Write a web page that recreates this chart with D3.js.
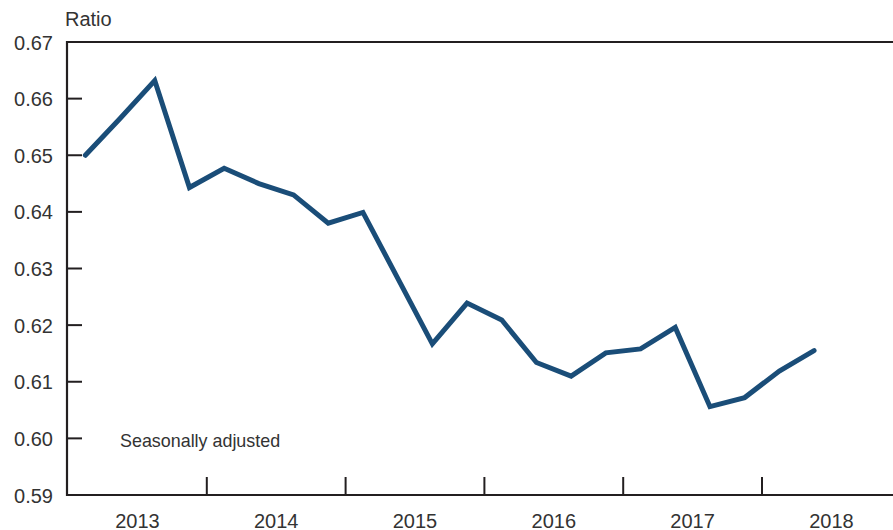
<!DOCTYPE html>
<html>
<head>
<meta charset="utf-8">
<script src="https://cdn.jsdelivr.net/npm/d3@7"></script>
<style>
  html, body { margin: 0; padding: 0; background: #fff; }
  svg { display: block; }
  text { font-family: "Liberation Sans", Arial, sans-serif; fill: #333; }
</style>
</head>
<body>
<script>
// Quarterly data, 2013Q1 – 2018Q2
const periods = [
  "2013Q1","2013Q2","2013Q3","2013Q4",
  "2014Q1","2014Q2","2014Q3","2014Q4",
  "2015Q1","2015Q2","2015Q3","2015Q4",
  "2016Q1","2016Q2","2016Q3","2016Q4",
  "2017Q1","2017Q2","2017Q3","2017Q4",
  "2018Q1","2018Q2"
];
const ratio = [
  0.6500, 0.6565, 0.6632, 0.6443,
  0.6477, 0.6450, 0.6430, 0.6380,
  0.6399, 0.6283, 0.6167, 0.6239,
  0.6209, 0.6134, 0.6110, 0.6151,
  0.6158, 0.6196, 0.6056, 0.6072,
  0.6119, 0.6155
];
const yearLabels = ["2013","2014","2015","2016","2017","2018"];
const yTicks = [0.59, 0.60, 0.61, 0.62, 0.63, 0.64, 0.65, 0.66, 0.67];
const yAxisTitle = "Ratio";
const note = "Seasonally adjusted";

(function () {
const W = 893, H = 530;
const mLeft = 67, mTop = 42, mBottom = 495, mRight = 893;
const axisColor = "#231f20";
const lineColor = "#1a4d78";

const svg = d3.select("body").append("svg").attr("width", W).attr("height", H);

const x = d3.scaleLinear().domain([2013, 2019]).range([68, 68 + 6 * 138.8]);
const y = d3.scaleLinear().domain([0.59, 0.67]).range([mBottom, mTop]);

function periodToX(p) {
  const yr = +p.slice(0, 4), q = +p.slice(5);
  return yr + (q - 0.5) / 4;
}

// Frame lines: top, bottom, left
svg.append("line").attr("x1", mLeft).attr("x2", mRight).attr("y1", y(0.67)).attr("y2", y(0.67))
  .attr("stroke", axisColor).attr("stroke-width", 2);
svg.append("line").attr("x1", mLeft).attr("x2", mRight).attr("y1", y(0.59)).attr("y2", y(0.59))
  .attr("stroke", axisColor).attr("stroke-width", 2);
svg.append("line").attr("x1", mLeft).attr("x2", mLeft).attr("y1", y(0.67) - 1).attr("y2", y(0.59) + 1)
  .attr("stroke", axisColor).attr("stroke-width", 2.2);

// Y ticks (inner) and labels
svg.selectAll(".ytick").data(yTicks.filter(d => d > 0.595 && d < 0.665)).enter().append("line")
  .attr("x1", mLeft).attr("x2", mLeft + 15)
  .attr("y1", d => y(d)).attr("y2", d => y(d))
  .attr("stroke", axisColor).attr("stroke-width", 2);
svg.selectAll(".ylab").data(yTicks).enter().append("text")
  .attr("x", 53).attr("y", d => y(d) + 7.5)
  .attr("text-anchor", "end").attr("font-size", 20)
  .text(d => d.toFixed(2));

// X ticks at year boundaries
const boundaries = d3.range(2014, 2019);
svg.selectAll(".xtick").data(boundaries).enter().append("line")
  .attr("x1", d => x(d)).attr("x2", d => x(d))
  .attr("y1", mBottom).attr("y2", mBottom - 18)
  .attr("stroke", axisColor).attr("stroke-width", 2);
svg.selectAll(".xlab").data(yearLabels).enter().append("text")
  .attr("x", d => x(+d + 0.5)).attr("y", 527.5)
  .attr("text-anchor", "middle").attr("font-size", 20)
  .text(d => d);

// Axis title and note
svg.append("text").attr("x", 65).attr("y", 25.5).attr("font-size", 20).text(yAxisTitle);
svg.append("text").attr("x", 120).attr("y", 447).attr("font-size", 17.9).text(note);

// Data line
const data = periods.map((p, i) => ({ t: periodToX(p), v: ratio[i] }));
svg.append("path").datum(data)
  .attr("fill", "none").attr("stroke", lineColor).attr("stroke-width", 5)
  .attr("stroke-linejoin", "miter").attr("stroke-linecap", "round")
  .attr("d", d3.line().x(d => x(d.t)).y(d => y(d.v)));
})();
</script>
</body>
</html>
